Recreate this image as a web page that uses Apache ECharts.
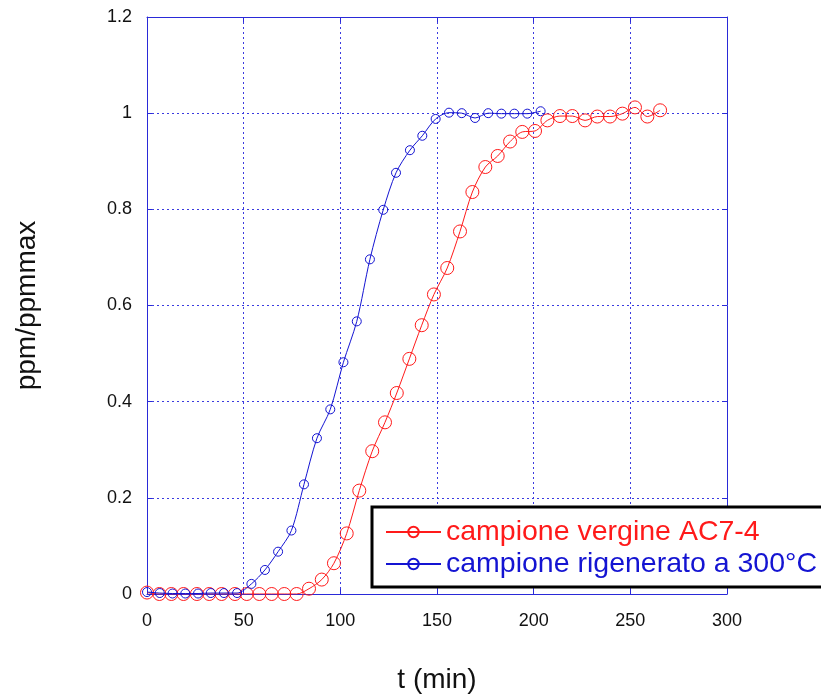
<!DOCTYPE html>
<html>
<head>
<meta charset="utf-8">
<script src="https://cdn.jsdelivr.net/npm/echarts@6/dist/echarts.min.js"></script>
<style>
html,body{margin:0;padding:0;background:#fff;}
#chart{width:821px;height:699px;}
</style>
</head>
<body>
<div id="chart"></div>
<script>
// ---- data ----
const seriesNames = ['campione vergine AC7-4', 'campione rigenerato a 300°C'];
const xTicks = [0, 50, 100, 150, 200, 250, 300];
const yTicks = [0, 0.2, 0.4, 0.6, 0.8, 1, 1.2];

const redTimes = [0, 6.4, 12.6, 18.9, 25.8, 32.2, 38.6, 45.5, 51.6, 58.1, 64.5, 71, 77.4,
  83.8, 90.4, 96.7, 103.3, 109.8, 116.5, 123.1, 129.2, 135.7, 142.1, 148.4, 155.3, 161.9,
  168.3, 175, 181.4, 187.8, 194.1, 200.7, 207.1, 213.6, 220, 226.6, 232.9, 239.5, 245.9,
  252.4, 258.8, 265.4];
const redValues = [0.003, 0.0, 0.0, 0.0, 0.0, 0.0, 0.0, 0.0, 0.0, 0.0, 0.0, 0.0, 0.0,
  0.011, 0.03, 0.064, 0.126, 0.215, 0.297, 0.357, 0.418, 0.489, 0.559, 0.623, 0.678, 0.754,
  0.836, 0.888, 0.911, 0.941, 0.961, 0.963, 0.985, 0.994, 0.994, 0.985, 0.993, 0.993, 0.999,
  1.012, 0.993, 1.006];

const blueTimes = [0, 6.6, 13.2, 19.8, 26.4, 33, 39.8, 46.6, 54, 61, 67.8, 74.7, 81.2, 87.9,
  94.8, 101.6, 108.5, 115.3, 122.2, 128.8, 136, 142.4, 149.3, 156.2, 162.8, 169.7, 176.5,
  183.3, 190, 196.7, 203.6];
const blueValues = [0.004, 0.002, 0.001, 0.001, 0.001, 0.002, 0.002, 0.002, 0.021, 0.05,
  0.088, 0.132, 0.228, 0.324, 0.384, 0.482, 0.567, 0.696, 0.799, 0.876, 0.923, 0.953, 0.988,
  1.001, 1.0, 0.99, 1.0, 0.999, 0.999, 0.999, 1.004];

// ---- chart ----
const RED = '#ff1a1a';
const BLUE = '#1414d2';
const AXIS = '#2a2ad8';
const GRIDC = '#3a3ae0';
const FONT = 'Liberation Sans, Arial, sans-serif';

const pairs = (xs, ys) => xs.map((x, i) => [x, ys[i]]);

const chart = echarts.init(document.getElementById('chart'), null, {renderer: 'canvas'});

const baseX = {
  type: 'value', min: xTicks[0], max: xTicks[xTicks.length - 1], interval: 50,
  axisLine: {show: true, onZero: false, lineStyle: {color: AXIS, width: 1}},
  axisTick: {show: true, inside: true, length: 5, lineStyle: {color: AXIS}},
  splitLine: {show: false}
};
const baseY = {
  type: 'value', min: yTicks[0], max: yTicks[yTicks.length - 1], interval: 0.2,
  axisLine: {show: true, onZero: false, lineStyle: {color: AXIS, width: 1}},
  axisTick: {show: true, inside: true, length: 5, lineStyle: {color: AXIS}},
  splitLine: {show: false}
};

const option = {
  backgroundColor: '#ffffff',
  animation: false,
  textStyle: {fontFamily: FONT},
  grid: {left: 147, right: 94, top: 17, bottom: 103, containLabel: false},
  legend: {
    data: [
      {name: seriesNames[0], textStyle: {color: RED}},
      {name: seriesNames[1], textStyle: {color: BLUE}}
    ],
    orient: 'vertical',
    left: 372, top: 507,
    padding: [10, 30, 8, 13],
    itemGap: 2,
    itemWidth: 55,
    itemHeight: 13,
    backgroundColor: '#ffffff',
    borderColor: '#000000',
    borderWidth: 3,
    textStyle: {fontSize: 28.5, fontFamily: FONT, lineHeight: 30}
  },
  xAxis: [
    Object.assign({}, baseX, {
      position: 'bottom',
      axisLabel: {show: true, color: '#111', fontSize: 18, fontFamily: FONT, margin: 18},
      splitLine: {show: true, lineStyle: {color: GRIDC, type: [2, 3], width: 1}},
      name: 't (min)', nameLocation: 'middle', nameGap: 72,
      nameTextStyle: {fontSize: 28, color: '#111', fontFamily: FONT}
    }),
    Object.assign({}, baseX, {position: 'top', axisLabel: {show: false}})
  ],
  yAxis: [
    Object.assign({}, baseY, {
      position: 'left',
      axisLabel: {show: true, color: '#111', fontSize: 18, fontFamily: FONT, margin: 15},
      splitLine: {show: true, lineStyle: {color: GRIDC, type: [2, 3], width: 1}},
      name: 'ppm/ppmmax', nameLocation: 'middle', nameGap: 106, nameRotate: 90,
      nameTextStyle: {fontSize: 28, color: '#111', fontFamily: FONT}
    }),
    Object.assign({}, baseY, {position: 'right', axisLabel: {show: false}})
  ],
  series: [
    {
      name: seriesNames[0], type: 'line', xAxisIndex: 0, yAxisIndex: 0,
      data: pairs(redTimes, redValues),
      smooth: 0.3,
      symbol: 'circle', symbolSize: 13,
      lineStyle: {color: RED, width: 1},
      itemStyle: {color: 'rgba(0,0,0,0)', borderColor: RED, borderWidth: 1},
      z: 3
    },
    {
      name: seriesNames[1], type: 'line', xAxisIndex: 0, yAxisIndex: 0,
      data: pairs(blueTimes, blueValues),
      smooth: 0.3,
      symbol: 'circle', symbolSize: 9,
      lineStyle: {color: BLUE, width: 1},
      itemStyle: {color: 'rgba(0,0,0,0)', borderColor: BLUE, borderWidth: 1},
      z: 4
    }
  ]
};
chart.setOption(option);
</script>
</body>
</html>
